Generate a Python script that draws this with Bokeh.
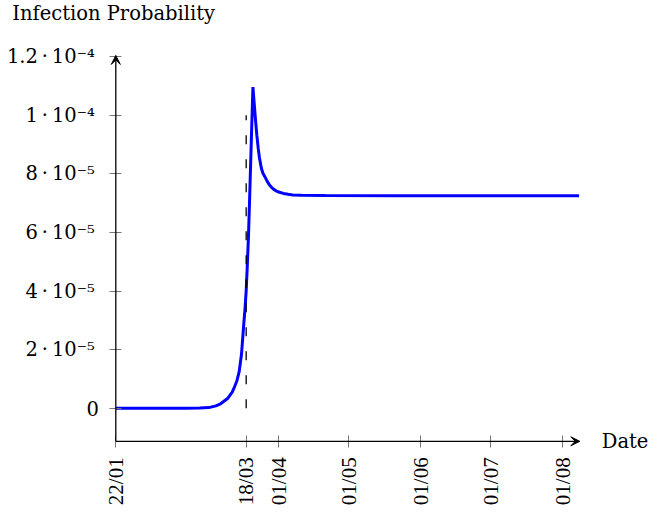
import math
from bokeh.plotting import figure
from bokeh.models import Range1d, FixedTicker, Arrow, VeeHead, Label, LinearAxis
from bokeh.embed import file_html
from bokeh.resources import INLINE

# ---- data (days since 22/01, infection probability) ----
days = [0, 30, 36, 40, 43, 45, 47, 48, 50, 51, 52, 53, 54, 55, 55.5, 56, 56.5, 57, 57.5,
        58.2, 58.9, 59.5, 60, 60.6, 61.2, 61.7, 62.5, 63.2, 63.9, 65, 66, 67, 68, 69,
        70.3, 72, 74, 76, 80, 90, 120, 150, 180, 199]
prob = [0, 0, 0.05e-6, 0.2e-6, 0.8e-6, 1.5e-6, 2.7e-6, 3.3e-6, 5.5e-6, 7.3e-6,
        9.3e-6, 12.5e-6, 18.5e-6, 29e-6, 34e-6, 40e-6, 49e-6, 59e-6, 72e-6,
        91e-6, 109.6e-6, 103.5e-6, 98.5e-6, 93e-6, 88.5e-6, 85.5e-6, 82e-6,
        80.2e-6, 79.2e-6, 77.5e-6, 76.2e-6, 75.3e-6, 74.6e-6, 74.1e-6,
        73.7e-6, 73.3e-6, 73.0e-6, 72.8e-6, 72.7e-6, 72.6e-6, 72.5e-6, 72.5e-6,
        72.5e-6, 72.5e-6]

x_tick_days = [0, 56, 70, 100, 131, 161, 192]
x_tick_labels = ["22/01", "18/03", "01/04", "01/05", "01/06", "01/07", "01/08"]
y_zero_tick = [0]
y_zero_label = ["0"]
y_ticks = [2e-5, 4e-5, 6e-5, 8e-5, 1e-4, 1.2e-4]
y_tick_labels = ["2\u2009·\u200910⁻⁵", "4\u2009·\u200910⁻⁵", "6\u2009·\u200910⁻⁵",
                 "8\u2009·\u200910⁻⁵", "1\u2009·\u200910⁻⁴", "1.2\u2009·\u200910⁻⁴"]

marker_day = 56        # 18/03
marker_top = 1e-4

# axis extents (where the arrows end)
X_MIN, X_MAX = 0, 199.3
Y_MIN, Y_MAX = -1.13e-5, 1.204e-4
# visible window covering the whole canvas
VIEW_X = (-49.53, 229.68)
VIEW_Y = (-3.355e-5, 1.3915e-4)

FONT = "DejaVu Serif"
FS = "19.5px"

p = figure(width=650, height=506, output_backend="svg", toolbar_location=None,
           x_range=Range1d(*VIEW_X), y_range=Range1d(*VIEW_Y),
           x_axis_location=None, y_axis_location=None, min_border=0)
p.outline_line_color = None
p.grid.visible = False
p.background_fill_color = "white"

p.line(days, prob, line_color="#0000ff", line_width=3)
p.line([marker_day, marker_day], [0, marker_top], line_color="black",
       line_width=1.3, line_dash="9 15")

xaxis = LinearAxis(fixed_location=Y_MIN, bounds=(X_MIN, X_MAX),
                   ticker=FixedTicker(ticks=x_tick_days))
yaxis = LinearAxis(fixed_location=X_MIN, bounds=(Y_MIN, Y_MAX),
                   ticker=FixedTicker(ticks=y_ticks))
yaxis0 = LinearAxis(fixed_location=X_MIN, bounds=(Y_MIN, Y_MAX),
                    ticker=FixedTicker(ticks=y_zero_tick))
for ax in (xaxis, yaxis, yaxis0):
    ax.axis_line_color = None
    ax.major_tick_in = 6
    ax.major_tick_out = 6
    ax.major_tick_line_color = "#777777"
    ax.major_tick_line_width = 1
    ax.minor_tick_line_color = None
    ax.major_label_text_color = "black"

xaxis.major_label_text_font = "Liberation Serif"
xaxis.major_label_text_font_size = "21px"
xaxis.major_label_overrides = dict(zip(x_tick_days, x_tick_labels))
xaxis.major_label_orientation = math.pi / 2
xaxis.major_label_standoff = 10
for ax, labels, ticks, standoff in ((yaxis, y_tick_labels, y_ticks, 15),
                                    (yaxis0, y_zero_label, y_zero_tick, 11)):
    ax.major_label_text_font = FONT
    ax.major_label_text_font_size = FS
    ax.major_label_overrides = dict(zip(ticks, labels))
    ax.major_label_standoff = standoff
p.add_layout(xaxis, "below")
p.add_layout(yaxis, "left")
p.add_layout(yaxis0, "left")

head = dict(size=9, fill_color="black", line_color="black")
p.add_layout(Arrow(end=VeeHead(**head), x_start=X_MIN, y_start=Y_MIN,
                   x_end=X_MAX, y_end=Y_MIN, line_color="black", line_width=1.3))
p.add_layout(Arrow(end=VeeHead(**head), x_start=X_MIN, y_start=Y_MIN,
                   x_end=X_MIN, y_end=Y_MAX, line_color="black", line_width=1.3))

p.add_layout(Label(x=X_MIN, y=Y_MAX, x_offset=-103.6, y_offset=42,
                   text="Infection Probability", text_font=FONT,
                   text_font_size=FS, text_align="left",
                   text_baseline="alphabetic", text_color="black"))
p.add_layout(Label(x=X_MAX, y=Y_MIN, x_offset=22, y_offset=0,
                   text="Date", text_font=FONT, text_font_size=FS,
                   text_align="left", text_baseline="alphabetic",
                   text_color="black"))

open("out.html", "w").write(file_html(p, INLINE))
